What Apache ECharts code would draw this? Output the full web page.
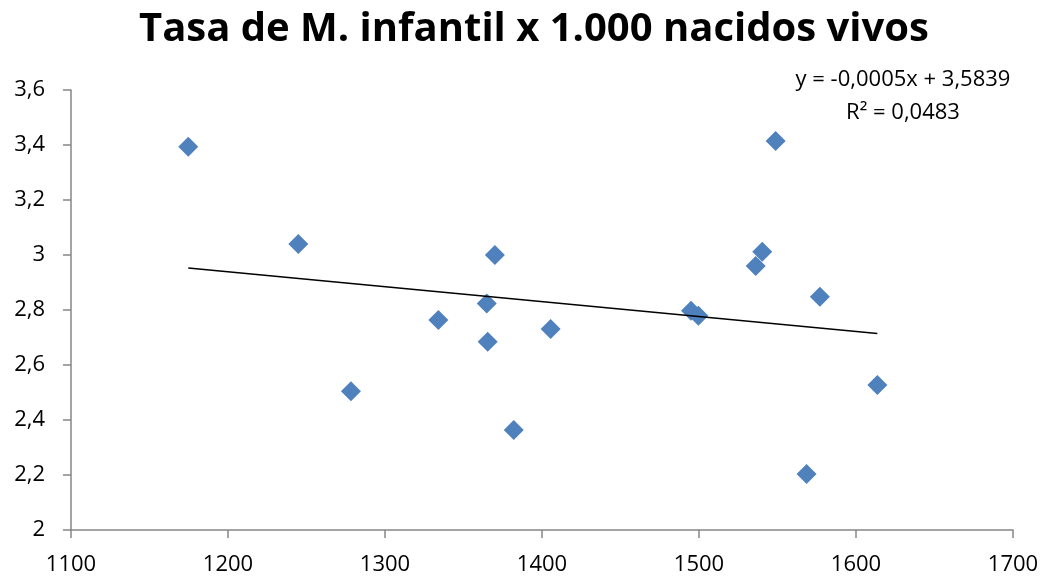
<!DOCTYPE html>
<html>
<head>
<meta charset="utf-8">
<script src="https://cdn.jsdelivr.net/npm/echarts@6/dist/echarts.min.js"></script>
<style>html,body{margin:0;padding:0;background:#fff}#c{width:1043px;height:577px}</style>
</head>
<body>
<div id="c"></div>
<script>
const titleText = 'Tasa de M. infantil x 1.000 nacidos vivos';
const xValues = [1174.7, 1244.8, 1278.3, 1334.0, 1364.8, 1365.4, 1370.0, 1382.0, 1405.5, 1494.9, 1499.6, 1536.1, 1540.3, 1548.8, 1568.5, 1577.0, 1613.6];
const yValues = [3.394, 3.040, 2.505, 2.764, 2.824, 2.685, 3.000, 2.364, 2.731, 2.797, 2.779, 2.960, 3.012, 3.415, 2.204, 2.848, 2.527];
const equationText = 'y = -0,0005x + 3,5839';
const r2Text = 'R² = 0,0483';
const xTicks = [1100, 1200, 1300, 1400, 1500, 1600, 1700];
const yTicks = [2, 2.2, 2.4, 2.6, 2.8, 3, 3.2, 3.4, 3.6];

// least-squares trendline from the data
const n = xValues.length;
const mx = xValues.reduce((a, b) => a + b, 0) / n;
const my = yValues.reduce((a, b) => a + b, 0) / n;
let sxy = 0, sxx = 0;
for (let i = 0; i < n; i++) { sxy += (xValues[i] - mx) * (yValues[i] - my); sxx += (xValues[i] - mx) ** 2; }
const slope = sxy / sxx, intercept = my - slope * mx;
const xmin = Math.min(...xValues), xmax = Math.max(...xValues);
const trend = [[xmin, intercept + slope * xmin], [xmax, intercept + slope * xmax]];

const font = '"Open Sans", "Noto Sans", sans-serif';
const axisCol = '#868686';
const chart = echarts.init(document.getElementById('c'), null, {renderer: 'canvas'});
chart.setOption({
  animation: false,
  backgroundColor: '#ffffff',
  title: {
    text: titleText, left: 134, top: 5,
    textStyle: {fontFamily: font, fontWeight: 'bold', fontSize: 40, color: '#000'}
  },
  grid: {left: 71, right: 30, top: 90, bottom: 47, containLabel: false},
  xAxis: {
    type: 'value', min: xTicks[0], max: xTicks[xTicks.length - 1], interval: 100,
    axisLine: {show: true, lineStyle: {color: axisCol, width: 1.5}},
    axisTick: {show: true, length: 8, lineStyle: {color: axisCol, width: 1.5}},
    splitLine: {show: false},
    axisLabel: {fontFamily: font, fontSize: 22, color: '#000', margin: 24,
      formatter: v => String(v)}
  },
  yAxis: {
    type: 'value', min: yTicks[0], max: yTicks[yTicks.length - 1], interval: 0.2,
    axisLine: {show: true, lineStyle: {color: axisCol, width: 1.5}},
    axisTick: {show: true, length: 8, lineStyle: {color: axisCol, width: 1.5}},
    splitLine: {show: false},
    axisLabel: {fontFamily: font, fontSize: 22, color: '#000', margin: 26,
      formatter: v => String(Math.round(v * 10) / 10).replace('.', ',')}
  },
  graphic: [
    {type: 'text', x: 903, y: 80, style: {text: equationText, font: '22px ' + font, fill: '#000', align: 'center', verticalAlign: 'middle'}},
    {type: 'text', x: 903, y: 113, style: {text: r2Text, font: '22px ' + font, fill: '#000', align: 'center', verticalAlign: 'middle'}}
  ],
  series: [
    {type: 'line', data: trend, symbol: 'none', lineStyle: {color: '#000', width: 1.6}, z: 3},
    {type: 'scatter', data: xValues.map((x, i) => [x, yValues[i]]), symbol: 'diamond', symbolSize: 20,
      itemStyle: {color: '#4F81BD', opacity: 1}, z: 2}
  ]
});
</script>
</body>
</html>
